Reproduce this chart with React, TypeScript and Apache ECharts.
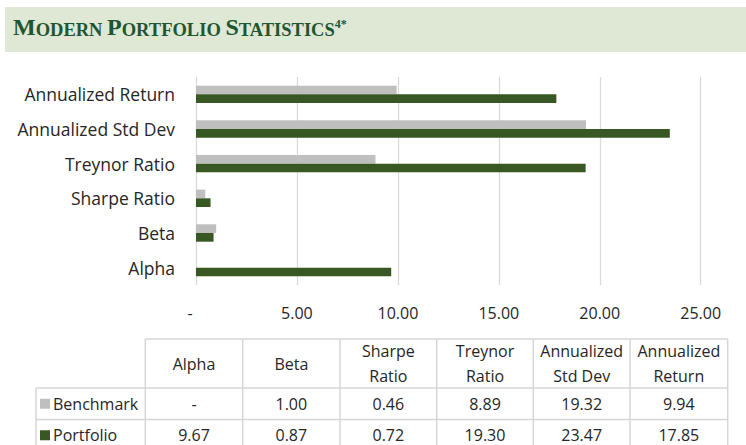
import React, { useEffect, useRef } from "react";
import * as echarts from "echarts";

const categories = ["Alpha", "Beta", "Sharpe Ratio", "Treynor Ratio", "Annualized Std Dev", "Annualized Return"];
const tableHeaders = ["Alpha", "Beta", "Sharpe\nRatio", "Treynor\nRatio", "Annualized\nStd Dev", "Annualized\nReturn"];
const benchmark = [0, 1.0, 0.46, 8.89, 19.32, 9.94];
const portfolio = [9.67, 0.87, 0.72, 19.3, 23.47, 17.85];
const seriesNames = ["Benchmark", "Portfolio"];
const xMin = 0;
const xMax = 25;
const xInterval = 5;

const GRAY = "#bfbfbf";
const GREEN = "#385723";
const TEXT = "#262626";
const BORDER = "#d6d6d6";
const FONT = "'Open Sans', sans-serif";

const fmt = (v: number) => (v === 0 ? "-" : v.toFixed(2));

function buildTable() {
  const colX = [145.3, 242.7, 340, 436.7, 533.3, 630, 727.7];
  const labelLeft = 36;
  const yTop = 339;
  const yRows = [388, 419.5, 451];
  const els: any[] = [];
  const line = (x1: number, y1: number, x2: number, y2: number) =>
    els.push({ type: "line", shape: { x1, y1, x2, y2 }, style: { stroke: BORDER, lineWidth: 1.5 }, silent: true });
  line(colX[0], yTop, colX[6], yTop);
  yRows.forEach((y) => line(labelLeft, y, colX[6], y));
  colX.forEach((x) => line(x, yTop, x, yRows[2]));
  line(labelLeft, yRows[0], labelLeft, yRows[2]);
  tableHeaders.forEach((h, i) => {
    els.push({
      type: "text",
      x: (colX[i] + colX[i + 1]) / 2,
      y: (yTop + yRows[0]) / 2,
      style: { text: h, fill: TEXT, font: `16px ${FONT}`, align: "center", verticalAlign: "middle", lineHeight: 25 },
      silent: true,
    });
  });
  const rows = [benchmark, portfolio];
  const colors = [GRAY, GREEN];
  rows.forEach((vals, r) => {
    const cy = (yRows[r] + yRows[r + 1]) / 2;
    els.push({ type: "rect", shape: { x: labelLeft + 4, y: cy - 5, width: 10, height: 10 }, style: { fill: colors[r] }, silent: true });
    els.push({
      type: "text",
      x: labelLeft + 17,
      y: cy,
      style: { text: seriesNames[r], fill: TEXT, font: `16px ${FONT}`, align: "left", verticalAlign: "middle" },
      silent: true,
    });
    vals.forEach((v, i) => {
      els.push({
        type: "text",
        x: (colX[i] + colX[i + 1]) / 2,
        y: cy,
        style: { text: fmt(v), fill: TEXT, font: `16px ${FONT}`, align: "center", verticalAlign: "middle" },
        silent: true,
      });
    });
  });
  return els;
}

export default function App() {
  const ref = useRef<HTMLDivElement>(null);
  useEffect(() => {
    if (!ref.current) return;
    const chart = echarts.init(ref.current, undefined, { renderer: "svg" });
    const titleFont = "'Liberation Serif', serif";
    const TC = "#1e5631";
    chart.setOption({
      animation: false,
      backgroundColor: "#ffffff",
      graphic: [
        { type: "rect", shape: { x: 5, y: 7, width: 741, height: 45 }, style: { fill: "#dfe7d5" }, silent: true },
        {
          type: "text",
          x: 13,
          y: 39,
          style: {
            text: "{b|M}{s|ODERN }{b|P}{s|ORTFOLIO }{b|S}{s|TATISTICS}{sup|4*}",
            verticalAlign: "bottom",
            rich: {
              b: { fontFamily: titleFont, fontWeight: "bold", fontSize: 24, fill: TC, verticalAlign: "bottom" },
              s: { fontFamily: titleFont, fontWeight: "bold", fontSize: 18.5, fill: TC, verticalAlign: "bottom" },
              sup: { fontFamily: titleFont, fontWeight: "bold", fontSize: 12, fill: TC, verticalAlign: "top", padding: [3, 0, 0, 0] },
            },
          },
          silent: true,
        },
        ...buildTable(),
      ],
      grid: { left: 196, right: 45.3, top: 77, bottom: 160, containLabel: false },
      xAxis: {
        type: "value",
        min: xMin,
        max: xMax,
        interval: xInterval,
        axisLine: { show: false },
        axisTick: { show: false },
        splitLine: { lineStyle: { color: "#d9d9d9", width: 1.3 } },
        axisLabel: {
          margin: 20,
          color: TEXT,
          fontFamily: FONT,
          fontSize: 16,
          formatter: (v: number) => (v === 0 ? "{d|-}" : v.toFixed(2)),
          rich: { d: { padding: [0, 12, 0, 0], fontFamily: FONT, fontSize: 16, color: TEXT } },
        },
      },
      yAxis: {
        type: "category",
        data: categories,
        axisLine: { show: false },
        axisTick: { show: false },
        axisLabel: { margin: 21, color: TEXT, fontFamily: FONT, fontSize: 17.5 },
      },
      series: [
        { name: seriesNames[0], type: "bar", data: benchmark, barWidth: 8.7, barGap: "0%", itemStyle: { color: GRAY } },
        { name: seriesNames[1], type: "bar", data: portfolio, barWidth: 8.7, barGap: "0%", itemStyle: { color: GREEN } },
      ],
    });
    return () => chart.dispose();
  }, []);
  return <div ref={ref} style={{ position: "absolute", left: 0, top: 0, width: 746, height: 445 }} />;
}
